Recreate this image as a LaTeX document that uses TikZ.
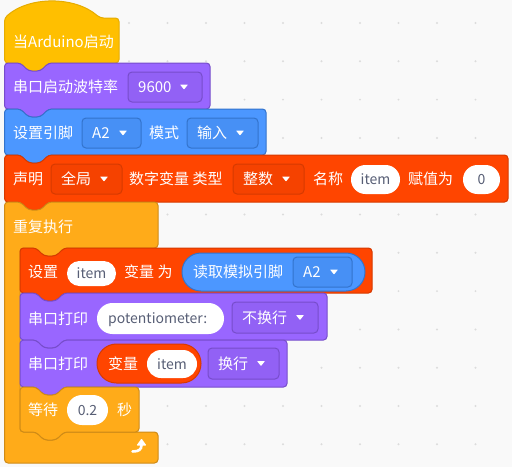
\documentclass[tikz,border=0pt]{standalone}
\usepackage{fontspec}
\newfontfamily\cjk{Noto Sans CJK SC}
\usepackage{tikz}
\usetikzlibrary{arrows.meta}
\definecolor{bgGray}{HTML}{F9F9F9}
\definecolor{dotGray}{HTML}{DCDCDC}
\definecolor{fieldGray}{HTML}{575E75}
\definecolor{hatYellow}{HTML}{FFBF00}
\definecolor{hatYellowDark}{HTML}{E6AC00}
\definecolor{serialPurple}{HTML}{9966FF}
\definecolor{serialPurpleDark}{HTML}{774DCB}
\definecolor{ddPurple}{HTML}{9261F5}
\definecolor{pinBlue}{HTML}{4C97FF}
\definecolor{pinBlueDark}{HTML}{3373CC}
\definecolor{ddBlue}{HTML}{4790F5}
\definecolor{varRed}{HTML}{FF4500}
\definecolor{varRedDark}{HTML}{D63A00}
\definecolor{ddRed}{HTML}{F54200}
\definecolor{loopOrange}{HTML}{FFAB19}
\definecolor{loopOrangeDark}{HTML}{CF8B17}

% stack block: fill, border, left, top, right, bottom (notch on top, tab below)
\newcommand{\stackblock}[6]{%
  \filldraw[fill=#1,draw=#2,line width=1pt,rounded corners=3.5pt]
    (#3,{(#4+#6)/2}) -- (#3,#4) -- (#3+16,#4) -- (#3+24,#4+8) -- (#3+36,#4+8) -- (#3+44,#4)
    -- (#5,#4) -- (#5,#6) -- (#3+44,#6) -- (#3+36,#6+8) -- (#3+24,#6+8) -- (#3+16,#6)
    -- (#3,#6) -- cycle;}
% dropdown: name, fill, border, left, top, right, bottom, text
\newcommand{\dropbox}[8]{%
  \filldraw[fill=#2,draw=#3,line width=1pt,rounded corners=4pt] (#4,#5) rectangle (#6,#7);
  \node[lbl,anchor=west] (#1) at (#4+10,{(#5+#7)/2}) {#8};
  \fill[white,rounded corners=0.6pt] (#6-22,{(#5+#7)/2-2.5}) -- (#6-14,{(#5+#7)/2-2.5})
    -- (#6-18,{(#5+#7)/2+2.5}) -- cycle;}
% white value field: name, left, top, right, bottom, text
\newcommand{\fieldoval}[6]{%
  \pgfmathsetmacro\ovr{(#5-#3)/2-0.05}
  \fill[white,rounded corners=\ovr pt] (#2,#3) rectangle (#4,#5);
  \node[fieldtxt] (#1) at ({(#2+#4)/2},{(#3+#5)/2}) {#6};}

\begin{document}
\begin{tikzpicture}[x=1pt,y=-1pt,
  lbl/.style={text=white,inner sep=0pt,text height=13pt,text depth=2pt,
    font=\cjk\fontsize{15}{18}\selectfont},
  fieldtxt/.style={text=fieldGray,inner sep=0pt,text height=12pt,text depth=2pt,
    font=\cjk\fontsize{14}{17}\selectfont}]
\fill[bgGray] (0,0) rectangle (512,467);
\useasboundingbox (0,0) rectangle (512,467);
\foreach \i in {0,...,12} \foreach \j in {0,...,11}
  \fill[dotGray] (13.5+38.5*\i,23+38.3*\j) circle (1.1pt);

% hat
\filldraw[fill=hatYellow,draw=hatYellowDark,line width=1pt,rounded corners=3.5pt]
  (4.5,40) -- (4.5,18) .. controls (29,-4) and (75,-4) .. (100,18) -- (119,18) -- (119,63)
  -- (48.5,63) -- (40.5,71) -- (28.5,71) -- (20.5,63) -- (4.5,63) -- cycle;
\node[lbl,anchor=west] (startlbl) at (13,42) {当Arduino启动};

\stackblock{serialPurple}{serialPurpleDark}{4.5}{63}{210}{109}
\node[lbl,anchor=west] (baudlbl) at (13,87) {串口启动波特率};
\dropbox{baud}{ddPurple}{serialPurpleDark}{128}{72}{202}{102}{9600}

\stackblock{pinBlue}{pinBlueDark}{4.5}{109}{266}{155}
\node[lbl,anchor=west] (pinlbl) at (13,133) {设置引脚};
\dropbox{pin}{ddBlue}{pinBlueDark}{82}{118}{141}{148}{A2}
\node[lbl,anchor=west] (modelbl) at (149,133) {模式};
\dropbox{mode}{ddBlue}{pinBlueDark}{187}{118}{258}{148}{输入}

\stackblock{varRed}{varRedDark}{4.5}{155}{508}{202}
\node[lbl,anchor=west] (decllbl) at (13,179) {声明};
\dropbox{scope}{ddRed}{varRedDark}{51}{164}{122}{194}{全局}
\node[lbl,anchor=west] (typelbl) at (129,179) {数字变量 类型};
\dropbox{type}{ddRed}{varRedDark}{233}{164}{304}{194}{整数}
\node[lbl,anchor=west] (namelbl) at (313,179) {名称};
\fieldoval{declname}{351}{165}{400}{194}{item}
\node[lbl,anchor=west] (initlbl) at (408,179) {赋值为};
\fieldoval{declinit}{463}{165}{500}{194}{0}

% repeat loop
\filldraw[fill=loopOrange,draw=loopOrangeDark,line width=1pt,rounded corners=3.5pt]
  (4.5,330) -- (4.5,202) -- (20.5,202) -- (28.5,210) -- (40.5,210) -- (48.5,202) -- (158,202)
  -- (158,248) -- (64,248) -- (56,256) -- (44,256) -- (36,248) -- (20,248)
  -- (20,432) -- (36,432) -- (44,440) -- (56,440) -- (64,432) -- (158,432)
  -- (158,463) -- (4.5,463) -- cycle;
\node[lbl,anchor=west] (looplbl) at (13,227) {重复执行};
\draw[white,line width=2.6pt,line cap=round]
  (132.5,451.5) .. controls (139,451.5) and (141.5,449.5) .. (141.5,445);
\fill[white,rounded corners=0.8pt] (136.5,445.5) -- (146.5,445.5) -- (141.5,438.5) -- cycle;

\stackblock{varRed}{varRedDark}{20}{248}{372}{293}
\node[lbl,anchor=west] (setlbl) at (28,272) {设置};
\fieldoval{setname}{67}{261}{116}{286}{item}
\node[lbl,anchor=west] (tolbl) at (124,272) {变量 为};
\filldraw[fill=pinBlue,draw=pinBlueDark,line width=1pt,rounded corners=18.9pt]
  (182,253) rectangle (365,291);
\node[lbl,anchor=west] (readlbl) at (193,272) {读取模拟引脚};
\dropbox{readpin}{ddBlue}{pinBlueDark}{293}{257}{352}{287}{A2}

\stackblock{serialPurple}{serialPurpleDark}{20}{293}{327}{340}
\node[lbl,anchor=west] (print1lbl) at (28,318.5) {串口打印};
\fill[white,rounded corners=15.4pt] (97,303) rectangle (224,334);
\node[fieldtxt,anchor=west] (msg) at (108,318.5) {potentiometer:};
\dropbox{nlnone}{ddPurple}{serialPurpleDark}{232}{302}{318}{333}{不换行}

\stackblock{serialPurple}{serialPurpleDark}{20}{340}{287}{387}
\node[lbl,anchor=west] (print2lbl) at (28,364) {串口打印};
\filldraw[fill=varRed,draw=varRedDark,line width=1pt,rounded corners=19.4pt]
  (97,344) rectangle (201,383);
\node[lbl,anchor=west] (varlbl) at (108,364) {变量};
\fieldoval{varname}{147}{350}{197}{378}{item}
\dropbox{nlyes}{ddPurple}{serialPurpleDark}{208}{348}{279}{379}{换行}

\stackblock{loopOrange}{loopOrangeDark}{20}{387}{139}{432}
\node[lbl,anchor=west] (waitlbl) at (28,410) {等待};
\fieldoval{waittime}{67}{395}{108}{425}{0.2}
\node[lbl,anchor=west] (seclbl) at (117,410) {秒};
\end{tikzpicture}
\end{document}
